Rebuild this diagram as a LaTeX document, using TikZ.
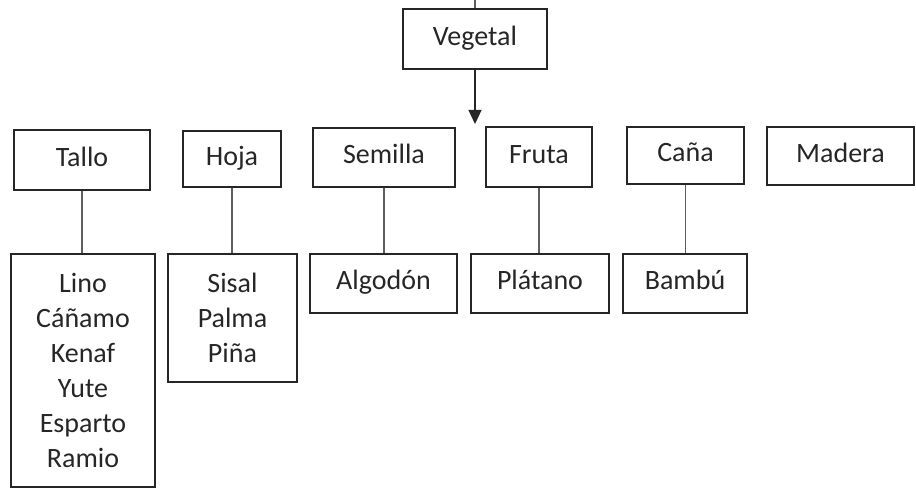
\documentclass[tikz,border=0pt]{standalone}
\usepackage{fontspec}
\setmainfont{Carlito}
\usetikzlibrary{arrows.meta, positioning}
\definecolor{cline}{HTML}{262626}
\definecolor{cgrey}{HTML}{5E5E5E}
\definecolor{ctext}{HTML}{262626}
\tikzset{
  every picture/.style={line width=1pt},
  box/.style={draw=cline, line width=1.8pt, text=ctext, align=center, inner sep=0pt,
    minimum width=#1, minimum height=59pt, font=\fontsize{28}{35}\selectfont},
  box/.default=120pt,
  single/.style={text height=19pt, text depth=6pt},
  link/.style={draw=cgrey, line width=1.2pt},
  arrow/.style={-{Triangle[length=14pt, width=13pt]}, draw=cline, line width=1.2pt},
}

\begin{document}
\begin{tikzpicture}[x=1pt, y=-1pt]
  \useasboundingbox (0,0) rectangle (916,489);
  % top
  \node[box=144pt, single, minimum height=60pt] (vegetal) at (475,39) {Vegetal};
  \coordinate (top) at (475,0);
  \coordinate (tip) at (475,124);
  \draw[link] (vegetal.north) -- (top);
  \draw[arrow] (vegetal.south) -- (tip);
  % first row
  \node[box=136pt, single, minimum height=60pt] (tallo) at (82,160) {Tallo};
  \node[box=98pt, single, minimum height=56pt] (hoja) at (232,159) {Hoja};
  \node[box=142pt, single] (semilla) at (384,157.5) {Semilla};
  \node[box=106pt, single, minimum height=60pt] (fruta) at (539,157) {Fruta};
  \node[box=117pt, single, minimum height=57pt] (cana) at (685.5,155.5) {Caña};
  \node[box=147pt, single, minimum height=58pt] (madera) at (840.5,156) {Madera};
  % second row
  \node[box=144pt, minimum height=233pt] (fibras) at (83,370.5)
    {Lino\\Cáñamo\\Kenaf\\Yute\\Esparto\\Ramio};
  \node[box=129pt, minimum height=128pt] (hojas) at (232.5,318) {Sisal\\Palma\\Piña};
  \node[box=147pt, single] (algodon) at (383.5,283.5) {Algodón};
  \node[box=138pt, single] (platano) at (540,283.5) {Plátano};
  \node[box=124pt, single] (bambu) at (685,283.5) {Bambú};
  % links
  \draw[link] (tallo.south) -- (tallo.south |- fibras.north);
  \draw[link] (hoja.south) -- (hoja.south |- hojas.north);
  \draw[link] (semilla.south) -- (semilla.south |- algodon.north);
  \draw[link] (fruta.south) -- (fruta.south |- platano.north);
  \draw[link] (cana.south) -- (cana.south |- bambu.north);
\end{tikzpicture}
\end{document}
